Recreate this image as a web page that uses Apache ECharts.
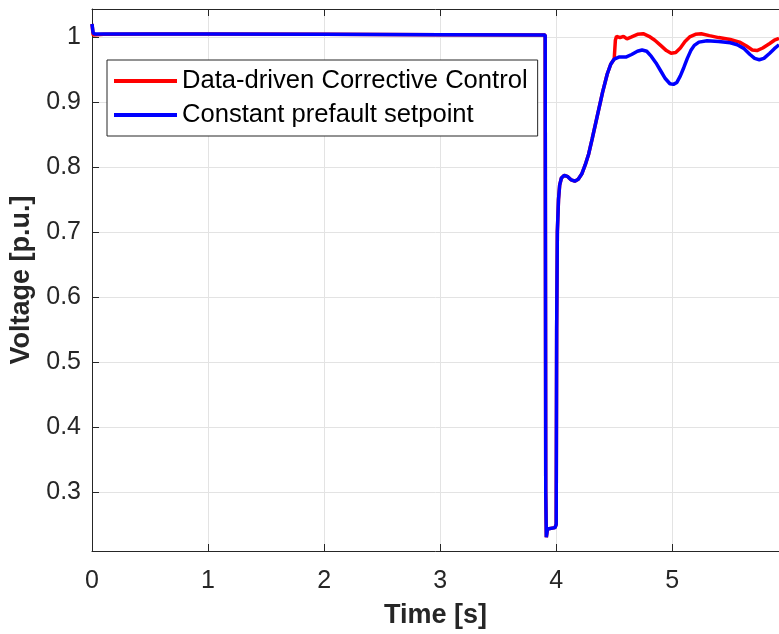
<!DOCTYPE html>
<html>
<head>
<meta charset="utf-8">
<script src="https://cdn.jsdelivr.net/npm/echarts@6/dist/echarts.min.js"></script>
<style>html,body{margin:0;padding:0;background:#fff;}#c{width:779px;height:634px;}</style>
</head>
<body>
<div id="c"></div>
<script>
const seriesNames = ['Data-driven Corrective Control', 'Constant prefault setpoint'];
const xLabelName = 'Time [s]';
const yLabelName = 'Voltage [p.u.]';

// Blue: constant prefault setpoint [time, voltage]
const blueData = [
  [0,1.020],[0.01,1.006],[0.03,1.0045],[0.5,1.0045],[1,1.0044],[2,1.004],[3,1.0035],[3.905,1.003],
  [3.91,0.30],[3.915,0.23],[3.925,0.243],[3.94,0.245],[3.99,0.245],[4.0,0.25],[4.004,0.55],
  [4.01,0.70],[4.02,0.75],[4.03,0.772],[4.045,0.783],[4.07,0.787],[4.1,0.785],[4.13,0.780],
  [4.16,0.778],[4.19,0.781],[4.22,0.789],[4.25,0.803],[4.28,0.820],[4.31,0.843],[4.35,0.875],
  [4.4,0.915],[4.44,0.943],[4.47,0.958],[4.5,0.966],[4.54,0.969],[4.6,0.969],[4.65,0.973],
  [4.7,0.978],[4.74,0.980],[4.78,0.978],[4.82,0.970],[4.86,0.960],[4.9,0.948],[4.94,0.936],
  [4.98,0.928],[5.01,0.927],[5.04,0.930],[5.07,0.940],[5.1,0.953],[5.13,0.967],[5.16,0.979],
  [5.19,0.987],[5.23,0.992],[5.3,0.994],[5.4,0.993],[5.5,0.991],[5.56,0.988],[5.62,0.982],
  [5.67,0.973],[5.71,0.967],[5.75,0.965],[5.79,0.967],[5.84,0.975],[5.88,0.982],[5.92,0.988]
];

// Red: data-driven corrective control [time, voltage]
const redData = [
  [0,1.020],[0.01,1.003],[0.1,1.004],[0.5,1.0045],[1,1.0044],[2,1.004],[3,1.0035],[3.905,1.003],
  [3.91,0.30],[3.915,0.23],[3.925,0.243],[3.94,0.245],[3.99,0.245],[4.0,0.25],[4.004,0.55],
  [4.01,0.70],[4.02,0.75],[4.03,0.772],[4.045,0.783],[4.07,0.787],[4.1,0.785],[4.13,0.780],
  [4.16,0.778],[4.19,0.781],[4.22,0.789],[4.25,0.803],[4.28,0.820],[4.31,0.843],[4.35,0.875],
  [4.4,0.915],[4.44,0.943],[4.47,0.958],[4.5,0.966],[4.505,0.968],[4.51,0.995],[4.52,1.001],
  [4.55,0.999],[4.58,1.001],[4.61,0.997],[4.65,1.000],[4.7,1.004],[4.75,1.005],[4.8,1.001],
  [4.85,0.995],[4.9,0.987],[4.95,0.979],[4.99,0.975],[5.03,0.976],[5.07,0.983],[5.11,0.993],
  [5.15,1.000],[5.2,1.004],[5.25,1.005],[5.32,1.002],[5.4,0.999],[5.5,0.996],[5.58,0.992],
  [5.64,0.986],[5.69,0.980],[5.73,0.979],[5.78,0.983],[5.84,0.990],[5.88,0.995],[5.92,0.998]
];

const xMin = 0, xMax = 5.92;
const yMin = 0.209, yMax = 1.043;

const font = "'Liberation Sans', Arial, Helvetica, sans-serif";
const axisColor = '#262626';
const chart = echarts.init(document.getElementById('c'), null, {renderer: 'canvas'});
chart.setOption({
  animation: false,
  backgroundColor: '#fff',
  grid: {left: 92, right: 0, top: 9, bottom: 82, containLabel: false},
  legend: {
    left: 107, top: 60, orient: 'vertical',
    data: [{name: seriesNames[0], icon: 'rect'}, {name: seriesNames[1], icon: 'rect'}],
    itemWidth: 63, itemHeight: 4, itemGap: 8,
    padding: [8, 10, 8, 7],
    backgroundColor: '#fff', borderColor: axisColor, borderWidth: 1,
    textStyle: {fontFamily: font, fontSize: 25.6, color: '#000'}
  },
  xAxis: [{
    type: 'value', min: xMin, max: xMax, splitNumber: 6,
    name: xLabelName, nameLocation: 'middle', nameGap: 51,
    nameTextStyle: {fontFamily: font, fontSize: 27, fontWeight: 'bold', color: axisColor},
    axisLine: {show: true, onZero: false, lineStyle: {color: axisColor, width: 1}},
    axisTick: {show: true, inside: true, length: 7, lineStyle: {color: axisColor}},
    axisLabel: {margin: 18, fontFamily: font, fontSize: 25, color: axisColor, showMaxLabel: false},
    splitLine: {show: true, lineStyle: {color: '#e3e3e3', width: 1}}
  }, {
    type: 'value', position: 'top', min: xMin, max: xMax, splitNumber: 6,
    axisLine: {show: true, onZero: false, lineStyle: {color: axisColor, width: 1}},
    axisTick: {show: true, inside: true, length: 7, lineStyle: {color: axisColor}},
    axisLabel: {show: false}, splitLine: {show: false}
  }],
  yAxis: {
    type: 'value', min: yMin, max: yMax, splitNumber: 8,
    name: yLabelName, nameLocation: 'middle', nameGap: 55,
    nameTextStyle: {fontFamily: font, fontSize: 27, fontWeight: 'bold', color: axisColor},
    axisLine: {show: true, onZero: false, lineStyle: {color: axisColor, width: 1}},
    axisTick: {show: true, inside: true, length: 7, lineStyle: {color: axisColor}},
    axisLabel: {margin: 11, fontFamily: font, fontSize: 25, color: axisColor, showMinLabel: false, showMaxLabel: false},
    splitLine: {show: true, lineStyle: {color: '#e3e3e3', width: 1}}
  },
  series: [{
    name: seriesNames[0], type: 'line', xAxisIndex: 0, data: redData,
    showSymbol: false, symbol: 'none', lineStyle: {color: '#ff0000', width: 3.5}, itemStyle: {color: '#ff0000'}
  }, {
    name: seriesNames[1], type: 'line', xAxisIndex: 0, data: blueData,
    showSymbol: false, symbol: 'none', lineStyle: {color: '#0000ff', width: 3.5}, itemStyle: {color: '#0000ff'}
  }]
});
</script>
</body>
</html>
